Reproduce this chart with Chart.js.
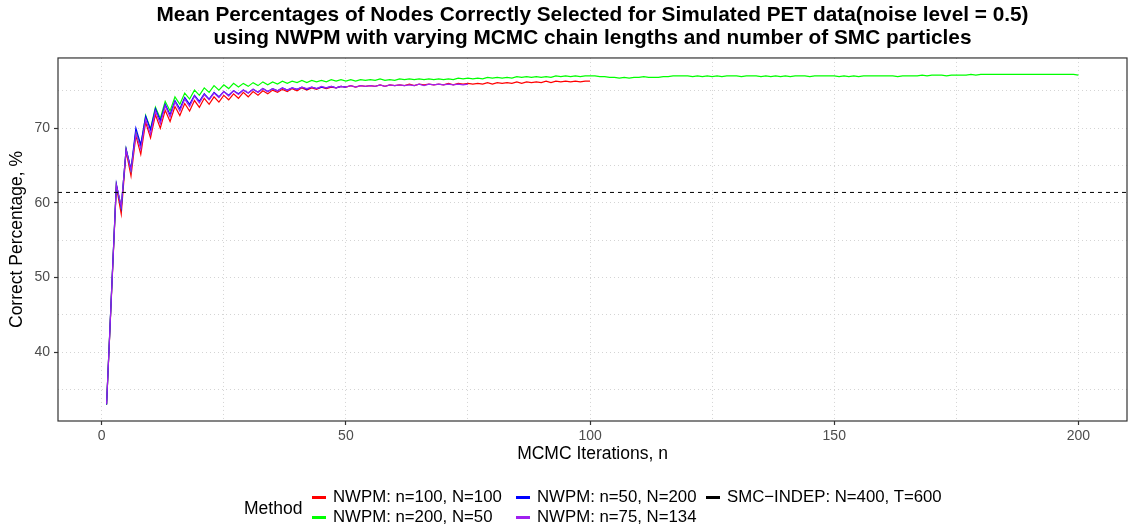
<!DOCTYPE html>
<html>
<head>
<meta charset="utf-8">
<script src="https://cdn.jsdelivr.net/npm/chart.js"></script>
<style>
  body { margin: 0; background: #fff; font-family: "Liberation Sans", Arial, sans-serif; }
  #wrap { position: relative; width: 1128px; height: 526px; }
  #legTitle { position: absolute; left: 244px; top: 498px; font-size: 17.5px; color: #000; }
  #legGrid { position: absolute; left: 312px; top: 487px; display: grid; grid-auto-flow: column;
             grid-template-rows: 20px 20px; grid-template-columns: 204px 190px auto; }
  .item { display: flex; align-items: center; font-size: 16.8px; color: #000; white-space: nowrap; }
  .key { width: 14px; height: 3px; margin-right: 7px; }
</style>
</head>
<body>
<div id="wrap">
  <canvas id="chart" width="1128" height="526"></canvas>
  <div id="legTitle">Method</div>
  <div id="legGrid"></div>
</div>
<script>
// Mean % of nodes correctly selected, one value per MCMC iteration (starting at 1)
const red_n100_N100 = [
  33.0, 47.6, 62.2, 58.5, 66.9, 63.6, 69.0, 66.5, 70.8, 68.7,
  71.8, 70.0, 72.4, 70.9, 72.9, 71.7, 73.3, 72.3, 73.7, 72.8,
  74.0, 73.2, 74.2, 73.5, 74.4, 73.8, 74.6, 74.0, 74.8, 74.2,
  74.9, 74.4, 75.0, 74.6, 75.1, 74.8, 75.2, 74.9, 75.3, 75.0,
  75.4, 75.1, 75.4, 75.2, 75.5, 75.3, 75.5, 75.4, 75.6, 75.5,
  75.7, 75.5, 75.7, 75.6, 75.7, 75.6, 75.8, 75.6, 75.8, 75.7,
  75.8, 75.7, 75.9, 75.7, 75.9, 75.8, 75.9, 75.8, 75.9, 75.8,
  76.0, 75.8, 76.0, 75.9, 76.0, 75.9, 76.0, 75.9, 76.1, 75.9,
  76.1, 76.0, 76.1, 76.0, 76.2, 76.0, 76.2, 76.1, 76.2, 76.1,
  76.3, 76.1, 76.3, 76.2, 76.3, 76.2, 76.3, 76.2, 76.3, 76.3
];
const green_n200_N50 = [
  33.0, 47.9, 62.4, 59.4, 67.2, 64.4, 69.6, 67.6, 71.7, 69.9,
  72.8, 71.3, 73.6, 72.3, 74.2, 73.2, 74.7, 73.9, 75.1, 74.4,
  75.4, 74.8, 75.7, 75.1, 75.8, 75.3, 76.0, 75.5, 76.0, 75.6,
  76.1, 75.7, 76.2, 75.8, 76.2, 75.9, 76.3, 76.0, 76.3, 76.1,
  76.4, 76.1, 76.4, 76.2, 76.4, 76.2, 76.5, 76.3, 76.5, 76.3,
  76.5, 76.3, 76.5, 76.4, 76.5, 76.4, 76.6, 76.4, 76.5, 76.4,
  76.6, 76.5, 76.6, 76.5, 76.6, 76.5, 76.6, 76.5, 76.6, 76.5,
  76.6, 76.5, 76.7, 76.6, 76.7, 76.6, 76.7, 76.6, 76.8, 76.7,
  76.8, 76.7, 76.8, 76.7, 76.9, 76.8, 76.9, 76.8, 76.9, 76.8,
  76.9, 76.8, 77.0, 76.9, 77.0, 76.9, 77.0, 76.9, 77.0, 77.0,
  77.0, 76.9, 76.9, 76.8, 76.8, 76.7, 76.8, 76.7, 76.8, 76.8,
  76.9, 76.8, 76.8, 76.8, 76.9, 76.9, 77.0, 77.0, 77.0, 77.0,
  76.9, 77.0, 76.9, 77.0, 76.9, 77.0, 76.9, 77.0, 77.0, 77.0,
  76.9, 77.0, 77.0, 77.0, 76.9, 77.0, 76.9, 77.0, 76.9, 77.0,
  76.9, 77.0, 77.0, 77.0, 76.9, 77.0, 77.0, 77.0, 77.0, 77.0,
  76.9, 77.0, 76.9, 77.0, 76.9, 77.0, 77.0, 77.0, 77.0, 77.0,
  77.0, 77.0, 76.9, 77.0, 77.0, 77.0, 77.0, 77.1, 77.0, 77.1,
  77.1, 77.1, 77.0, 77.1, 77.1, 77.1, 77.1, 77.2, 77.1, 77.2,
  77.2, 77.2, 77.2, 77.2, 77.2, 77.2, 77.2, 77.2, 77.2, 77.2,
  77.2, 77.2, 77.2, 77.2, 77.2, 77.2, 77.2, 77.2, 77.2, 77.1
];
const blue_n50_N200 = [
  33.0, 47.9, 62.5, 59.3, 67.2, 64.5, 70.0, 67.8, 71.6, 69.8,
  72.6, 71.0, 73.2, 71.8, 73.7, 72.6, 74.1, 73.2, 74.4, 73.6,
  74.6, 73.9, 74.8, 74.2, 74.9, 74.4, 75.0, 74.6, 75.1, 74.7,
  75.2, 74.8, 75.3, 74.9, 75.3, 75.0, 75.4, 75.1, 75.4, 75.2,
  75.5, 75.2, 75.5, 75.3, 75.5, 75.4, 75.6, 75.4, 75.6, 75.5
];
const purple_n75_N134 = [
  33.1, 47.8, 62.4, 59.5, 67.1, 64.3, 69.3, 67.2, 71.2, 69.2,
  72.3, 70.6, 73.0, 71.5, 73.5, 72.3, 73.9, 72.9, 74.3, 73.4,
  74.5, 73.8, 74.7, 74.1, 74.9, 74.3, 75.0, 74.5, 75.1, 74.7,
  75.2, 74.8, 75.3, 74.9, 75.3, 75.0, 75.4, 75.1, 75.4, 75.2,
  75.5, 75.3, 75.5, 75.3, 75.6, 75.4, 75.6, 75.4, 75.6, 75.5,
  75.7, 75.5, 75.7, 75.6, 75.7, 75.6, 75.8, 75.6, 75.8, 75.7,
  75.8, 75.7, 75.8, 75.7, 75.9, 75.7, 75.9, 75.8, 75.9, 75.8,
  75.9, 75.8, 75.9, 75.8, 75.9
];
const smcIndep = [61.4]; // horizontal reference, SMC-INDEP: N=400, T=600

const methodLabels = ['NWPM: n=100, N=100', 'NWPM: n=200, N=50', 'NWPM: n=50, N=200',
                      'NWPM: n=75, N=134', 'SMC\u2212INDEP: N=400, T=600'];
const methodColors = ['#ff0000', '#00ff00', '#0000ff', '#a020f0', '#000000'];

// labelled ticks, and all grid positions (major + minor)
const xTickLabels = [0, 50, 100, 150, 200];
const xGridValues = [0, 25, 50, 75, 100, 125, 150, 175, 200];
const yTickLabels = [40, 50, 60, 70];
const yGridValues = [35, 40, 45, 50, 55, 60, 65, 70, 75];

const xMin = -8.95, xMax = 209.95, yMin = 30.8, yMax = 79.4;

const toPoints = arr => arr.map((v, i) => ({ x: i + 1, y: v }));

const lineSet = (k, values, order) => ({
  label: methodLabels[k],
  data: toPoints(values),
  borderColor: methodColors[k],
  backgroundColor: methodColors[k],
  borderWidth: 1.2,
  pointRadius: 0,
  tension: 0,
  fill: false,
  order: order
});

const datasets = [
  lineSet(0, red_n100_N100, 4),
  lineSet(1, green_n200_N50, 3),
  lineSet(2, blue_n50_N200, 2),
  lineSet(3, purple_n75_N134, 1),
  {
    label: methodLabels[4],
    data: [{ x: xMin, y: smcIndep[0] }, { x: xMax, y: smcIndep[0] }],
    borderColor: '#000', borderWidth: 1, borderDash: [4, 4],
    pointRadius: 0, fill: false, order: 0
  }
];

// draw the full panel border like ggplot
const panelBorder = {
  id: 'panelBorder',
  afterDraw(chart) {
    const { ctx, chartArea: a } = chart;
    ctx.save();
    ctx.strokeStyle = '#333333';
    ctx.lineWidth = 1.2;
    ctx.strokeRect(a.left, a.top, a.right - a.left, a.bottom - a.top);
    ctx.restore();
  }
};

const gridOpts = (majors) => ({
  color: '#d4d4d4',
  lineWidth: 1,
  tickLength: 4,
  tickWidth: 1.2,
  tickColor: c => majors.includes(c.tick && c.tick.value) ? '#333333' : 'rgba(0,0,0,0)'
});

new Chart(document.getElementById('chart').getContext('2d'), {
  type: 'line',
  data: { datasets: datasets },
  options: {
    responsive: false,
    animation: false,
    devicePixelRatio: 1,
    layout: { padding: { left: 0, right: 1, top: 0, bottom: 55 } },
    plugins: {
      legend: { display: false },
      tooltip: { enabled: false },
      title: {
        display: true,
        fullSize: false,
        text: ['Mean Percentages of Nodes Correctly Selected for Simulated PET data(noise level = 0.5)',
               'using NWPM with varying MCMC chain lengths and number of SMC particles'],
        color: '#000',
        font: { family: 'Liberation Sans', size: 20.8, weight: 'bold', lineHeight: 1.105 },
        padding: { top: 3.5, bottom: 8.5 }
      }
    },
    scales: {
      x: {
        type: 'linear',
        min: xMin, max: xMax, bounds: 'data',
        afterFit: s => { s.height = 50; },
        afterBuildTicks: s => { s.ticks = xGridValues.map(v => ({ value: v })); },
        border: { display: false, dash: [1, 3] },
        grid: gridOpts(xTickLabels),
        ticks: {
          autoSkip: false, maxRotation: 0,
          padding: 3, color: '#4d4d4d',
          font: { family: 'Liberation Sans', size: 14 },
          callback: v => xTickLabels.includes(v) ? String(v) : ''
        },
        title: {
          display: true, text: 'MCMC Iterations, n', color: '#000',
          font: { family: 'Liberation Sans', size: 17.5 },
          padding: { top: 0, bottom: 6.5 }
        }
      },
      y: {
        type: 'linear',
        min: yMin, max: yMax, bounds: 'data',
        afterFit: s => { s.width = 58; },
        afterBuildTicks: s => { s.ticks = yGridValues.map(v => ({ value: v })); },
        border: { display: false, dash: [1, 3] },
        grid: gridOpts(yTickLabels),
        ticks: {
          autoSkip: false,
          padding: 4, color: '#4d4d4d',
          font: { family: 'Liberation Sans', size: 14 },
          callback: v => yTickLabels.includes(v) ? String(v) : ''
        },
        title: {
          display: true, text: 'Correct Percentage, %', color: '#000',
          font: { family: 'Liberation Sans', size: 17.5 },
          padding: { top: 7, bottom: 0 }
        }
      }
    }
  },
  plugins: [panelBorder]
});

// ggplot-style legend: title on the left, entries filled column by column
const grid = document.getElementById('legGrid');
methodLabels.forEach((lab, k) => {
  const item = document.createElement('div');
  item.className = 'item';
  const key = document.createElement('span');
  key.className = 'key';
  key.style.background = methodColors[k];
  item.appendChild(key);
  item.appendChild(document.createTextNode(lab));
  grid.appendChild(item);
});
</script>
</body>
</html>
